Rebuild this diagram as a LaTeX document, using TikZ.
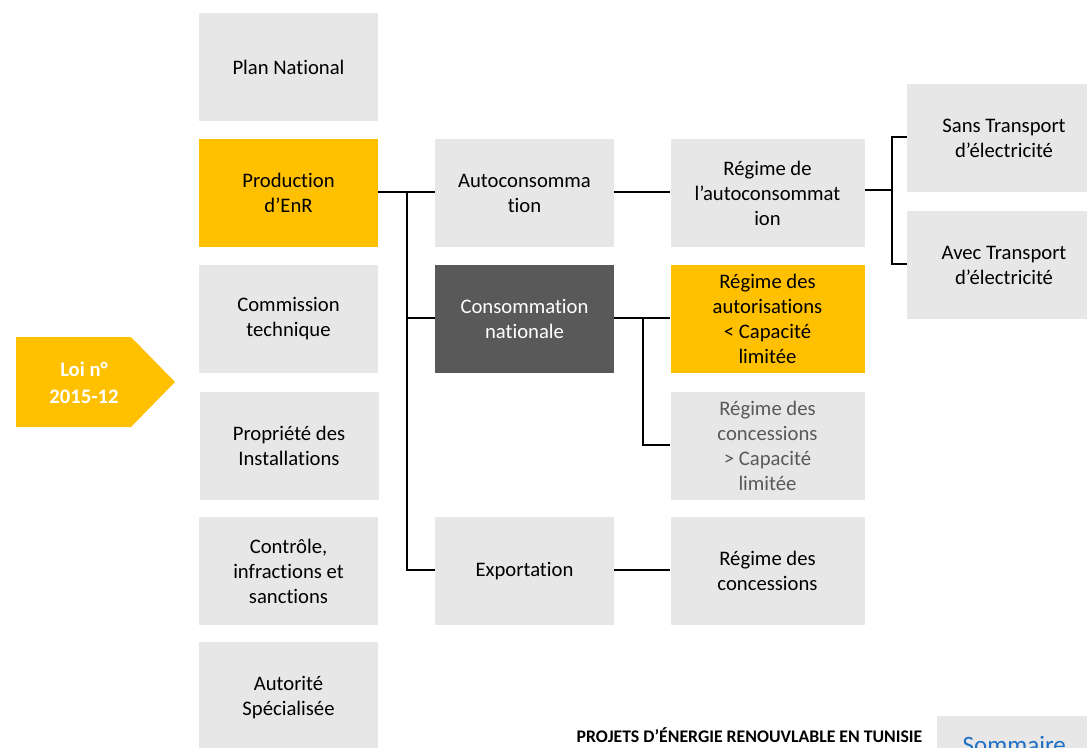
\documentclass[tikz,border=0pt]{standalone}
\usepackage{fontspec}
\setmainfont{Carlito}[Ligatures=NoCommon]
\usetikzlibrary{positioning}

\definecolor{jaune}{HTML}{FFC000}
\definecolor{gris}{HTML}{E7E7E7}
\definecolor{fonce}{HTML}{595959}
\definecolor{bleu}{HTML}{1F6FC5}

\tikzset{
  bloc/.style={rectangle, fill=gris, minimum width=134.25pt, minimum height=81pt,
    align=center, inner sep=2pt, font=\fontsize{15.5}{18.75}\selectfont},
  blocl/.style={bloc, minimum width=145.5pt},
  jaunebloc/.style={fill=jaune},
  foncebloc/.style={fill=fonce, text=white},
  lien/.style={draw=black, line width=0.8pt}
}

\begin{document}
\begin{tikzpicture}[x=0.75pt,y=-0.75pt]

    \useasboundingbox (0,0) rectangle (1087,747);

    % colonne 1
    \node[bloc] (plan) at (288.5,67) {Plan National};
    \node[bloc,jaunebloc] (prod) at (288.5,193) {Production\\d’EnR};
    \node[bloc] (comm) at (288.5,319) {Commission\\technique};
    \node[bloc] (prop) at (289,446) {Propriété des\\Installations};
    \node[bloc] (ctrl) at (288.5,571) {Contrôle,\\infractions et\\sanctions};
    \node[bloc, minimum height=84pt] (auto) at (288.5,698) {Autorité\\Spécialisée};

    % colonne 2
    \node[bloc] (autoc) at (524.5,193) {Autoconsomma\\tion};
    \node[bloc,foncebloc] (conso) at (524.5,319) {Consommation\\nationale};
    \node[bloc] (expo) at (524.5,571) {Exportation};

    % colonne 3
    \node[blocl] (regauto) at (767.5,193) {Régime de\\l’autoconsommat\\ion};
    \node[blocl,jaunebloc] (regautor) at (767.5,319) {Régime des\\autorisations\\< Capacité\\limitée};
    \node[blocl, text=fonce] (regconc) at (767.5,446) {Régime des\\concessions\\> Capacité\\limitée};
    \node[blocl] (regexp) at (767.5,571) {Régime des\\concessions};

    % colonne 4
    \node[blocl] (sans) at (1004,138) {Sans Transport\\d’électricité};
    \node[blocl] (avec) at (1004,265) {Avec Transport\\d’électricité};

    % loi
    \fill[jaune] (16,337) -- (131,337) -- (175,382) -- (131,427) -- (16,427) -- cycle;
    \node[text=white, align=center, font=\fontsize{15.5}{20}\selectfont\bfseries] (loi) at (84,383) {Loi n°\\2015-12};

    % liens
    \coordinate (t1) at (407,192);
    \coordinate (t2) at (643,318);
    \coordinate (t3) at (892,190);
    \draw[lien] (prod.east |- t1) -- (autoc.west |- t1);
    \draw[lien] (t1) |- (conso.west |- 0,318);
    \draw[lien] (t1) |- (expo.west |- 0,570);
    \draw[lien] (autoc.east |- t1) -- (regauto.west |- t1);
    \draw[lien] (conso.east |- t2) -- (regautor.west |- t2);
    \draw[lien] (t2) |- (regconc.west |- 0,445);
    \draw[lien] (expo.east |- 0,570) -- (regexp.west |- 0,570);
    \draw[lien] (regauto.east |- t3) -- (t3);
    \draw[lien] (t3) |- (sans.west |- 0,137);
    \draw[lien] (t3) |- (avec.west |- 0,264);

    % pied de page
    \node[anchor=base east, font=\fontsize{13.3}{16}\selectfont\bfseries] (titre) at (927,742) {PROJETS D’ÉNERGIE RENOUVLABLE EN TUNISIE};
    \node[rectangle, fill=gris, minimum width=150pt, minimum height=30pt, anchor=north west] (somm) at (937,716) {};
    \node[anchor=base west, text=bleu, font=\fontsize{18.75}{22}\selectfont] (sommtxt) at (958,753) {Sommaire};

\end{tikzpicture}
\end{document}
